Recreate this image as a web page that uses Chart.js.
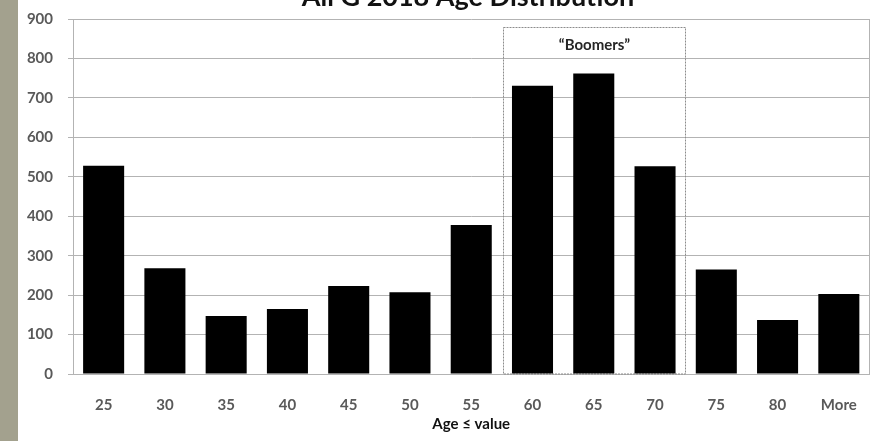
<!DOCTYPE html>
<html>
<head>
<meta charset="utf-8">
<script src="https://cdn.jsdelivr.net/npm/chart.js@4.4.1/dist/chart.umd.min.js"></script>
<style>
  html, body { margin: 0; padding: 0; background: #fff; }
  #strip { position: absolute; left: 0; top: 0; width: 18px; height: 441px; background: #a3a18e; }
  #wrap { position: absolute; left: 0; top: 0; width: 879px; height: 441px; }
</style>
</head>
<body>
<div id="strip"></div>
<div id="wrap"><canvas id="age-chart"></canvas></div>
<script>
var ageLabels = ['25', '30', '35', '40', '45', '50', '55', '60', '65', '70', '75', '80', 'More'];
var ageCounts = [528, 268, 147, 165, 223, 207, 378, 731, 762, 527, 265, 137, 203];
var boomerRange = ['60', '70'];
var boomerTop = 880;

// box around the plot plus the dotted "Boomers" frame and the clipped title
var decorations = {
    id: 'decorations',
    beforeDatasetsDraw: function(chart) {
        var ctx = chart.ctx, a = chart.chartArea;
        var x = chart.scales.x, y = chart.scales.y;
        ctx.save();
        ctx.strokeStyle = '#b3b3b3';
        ctx.lineWidth = 1;
        ctx.beginPath();
        ctx.moveTo(Math.round(a.right) + 0.5, a.top);
        ctx.lineTo(Math.round(a.right) + 0.5, a.bottom);
        ctx.stroke();

        var i0 = ageLabels.indexOf(boomerRange[0]);
        var i1 = ageLabels.indexOf(boomerRange[1]);
        var half = (x.getPixelForValue(1) - x.getPixelForValue(0)) / 2;
        var left = Math.round(x.getPixelForValue(i0) - half) + 1.5;
        var right = Math.round(x.getPixelForValue(i1) + half) - 0.5;
        var top = Math.round(y.getPixelForValue(boomerTop)) + 0.5;
        ctx.strokeStyle = '#8c8c8c';
        ctx.setLineDash([2, 1]);
        ctx.strokeRect(left, top, right - left, a.bottom - top);
        ctx.setLineDash([]);
        ctx.fillStyle = '#262626';
        ctx.font = 'bold 15px Lato';
        ctx.textAlign = 'center';
        ctx.textBaseline = 'middle';
        ctx.fillText('\u201cBoomers\u201d', (left + right) / 2, top + 18);

        ctx.fillStyle = '#111';
        ctx.font = 'bold 27px Lato';
        ctx.textBaseline = 'alphabetic';
        ctx.fillText('All G 2018 Age Distribution', 468, 6);
        ctx.restore();
    }
};

var ctx = document.getElementById('age-chart').getContext('2d');
var ageChart = new Chart(ctx, {
    type: 'bar',
    data: {
        labels: ageLabels,
        datasets: [{
            data: ageCounts,
            backgroundColor: '#000',
            borderWidth: 0,
            barPercentage: 0.67,
            categoryPercentage: 1
        }]
    },
    options: {
        responsive: true,
        maintainAspectRatio: false,
        animation: false,
        layout: { padding: { top: 19, right: 5, left: 0, bottom: 0 } },
        plugins: {
            legend: { display: false },
            tooltip: { enabled: false }
        },
        scales: {
            x: {
                grid: { display: false, drawTicks: false },
                border: { color: '#b3b3b3' },
                ticks: { color: '#595959', padding: 22, font: { family: 'Lato', size: 15, weight: 'bold' } },
                title: {
                    display: true,
                    text: 'Age \u2264 value',
                    color: '#111',
                    font: { family: 'Lato', size: 15, weight: 'bold' },
                    padding: { top: 0, bottom: 8 }
                },
                afterFit: function(scale) { scale.height = 67; }
            },
            y: {
                min: 0,
                max: 900,
                grid: { color: '#b3b3b3', tickLength: 5 },
                border: { color: '#b3b3b3' },
                ticks: { stepSize: 100, color: '#595959', padding: 15, font: { family: 'Lato', size: 15, weight: 'bold' } },
                afterFit: function(scale) {
                    scale.width = 73;
                    scale.paddingTop = 0;
                    scale.paddingBottom = 0;
                }
            }
        }
    },
    plugins: [decorations]
});
</script>
</body>
</html>
